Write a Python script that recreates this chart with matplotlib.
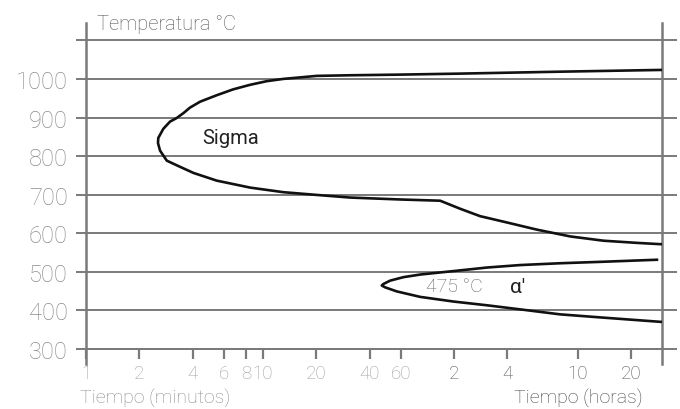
import matplotlib
matplotlib.use("Agg")
import matplotlib.pyplot as plt
from matplotlib.ticker import NullLocator

plt.rcParams['font.family'] = ['Roboto', 'DejaVu Sans']

# ---- data ----
temp_ticks = [300, 400, 500, 600, 700, 800, 900, 1000, 1100]
temp_labels = ['300', '400', '500', '600', '700', '800', '900', '1000', '']

time_ticks_min = [1, 2, 4, 6, 8, 10, 20, 40, 60, 120, 240, 600, 1200]
time_labels = ['1', '2', '4', '6', '8', '10', '20', '40', '60', '2', '4', '10', '20']
label_is_hours = [False] * 9 + [True] * 4

# Sigma curve (time in minutes, temperature in °C)
sigma_time = [1790, 1750, 476, 130, 59.4, 31.0, 20.1, 12.97, 10.49, 8.45, 6.77, 5.47,
              4.41, 3.87, 3.55, 3.25, 2.98, 2.73, 2.56, 2.55, 2.62, 2.86, 3.40, 4.04,
              5.47, 8.45, 13.02, 20.1, 31.0, 59.4, 100, 130, 168, 228, 352, 543, 837,
              1292, 1790]
sigma_temp = [1023.5, 1023.3, 1018.8, 1013.8, 1011.2, 1009.5, 1007.9, 1000, 994.2,
              984.8, 972.9, 957.7, 941, 925.8, 911.4, 898.6, 889.3, 870.4, 847, 833.8,
              814.1, 788.1, 772.1, 756.4, 736.4, 718.3, 706.4, 699.3, 692.5, 687.5,
              684.3, 663.3, 644.3, 630, 609.3, 591.7, 580.6, 575, 571.4]

# alpha' (475 °C embrittlement) curve
alpha_time = [1705, 802, 476, 283, 184, 119, 77.1, 62.0, 52.2, 47.8, 46.8, 48.9, 56.9,
              77.1, 119, 184, 283, 476, 802, 1790]
alpha_temp = [531.4, 525.8, 522.2, 517.5, 511.1, 501.9, 492.9, 486.1, 477.1, 468.4,
              464.5, 459.7, 449.2, 435, 422.9, 413.2, 402.6, 389.7, 381.8, 370]

# ---- figure ----
W, H = 680, 410
fig = plt.figure(figsize=(W / 100, H / 100), dpi=100)
ax = fig.add_axes([86 / W, (H - 365) / H, (662 - 86) / W, (365 - 24) / H])

grid_c = '#7a7a7a'
ax.set_xscale('log')
ax.set_xlim(1, 1790)
ax.set_ylim(261, 1145)

ax.spines['top'].set_visible(False)
ax.spines['bottom'].set_position(('data', 300))
ax.spines['bottom'].set_color(grid_c)
ax.spines['bottom'].set_linewidth(1.4)
for s in ('left', 'right'):
    ax.spines[s].set_color(grid_c)
    ax.spines[s].set_linewidth(1.8)
ax.set_facecolor('none')

ax.plot(sigma_time, sigma_temp, color='#111111', lw=1.9, solid_joinstyle='round',
        solid_capstyle='butt', zorder=3)
ax.plot(alpha_time, alpha_temp, color='#111111', lw=1.9, solid_joinstyle='round',
        solid_capstyle='butt', zorder=3)

# y axis
ax.set_yticks(temp_ticks)
ax.set_yticklabels(temp_labels)
ax.yaxis.set_minor_locator(NullLocator())
ax.grid(axis='y', color=grid_c, lw=1.4, zorder=1)
ax.tick_params(axis='y', which='major', direction='out', length=7.5, width=1.4,
               color=grid_c, labelsize=17, labelcolor='#8c8c8c', pad=5.5,
               right=True, labelright=False)
for t in ax.yaxis.get_major_ticks():
    t.tick2line.set_markersize(11)
    t.label1.set_fontweight('light')

# x axis
ax.set_xticks(time_ticks_min)
ax.set_xticklabels(time_labels)
ax.xaxis.set_minor_locator(NullLocator())
ax.tick_params(axis='x', which='major', direction='out', length=7.5, width=1.6,
               color=grid_c, labelsize=13.5, pad=3)
for t, hrs in zip(ax.xaxis.get_major_ticks(), label_is_hours):
    t.label1.set_color('#555555' if hrs else '#a0a0a0')
    t.label1.set_fontweight('light')

# annotations
ax.text(4.52, 848, 'Sigma', fontsize=14.5, color='#222222', va='center', ha='left')
ax.text(83.4, 463, '475 °C', fontsize=14, color='#666666', va='center', ha='left',
        fontweight='light')
ax.text(248, 461, 'α′', fontsize=15, color='#222222', va='center', ha='left')

fig.text(97 / W, 1 - 24 / H, 'Temperatura °C', fontsize=14.5, color='#555555',
         va='center', ha='left', fontweight='light')
fig.text(80 / W, 1 - 399 / H, 'Tiempo (minutos)', fontsize=14, color='#8c8c8c',
         va='center', ha='left', fontweight='light')
fig.text(643 / W, 1 - 399 / H, 'Tiempo (horas)', fontsize=14, color='#444444',
         va='center', ha='right', fontweight='light')

fig.savefig('out.png', dpi=100, facecolor='white')
